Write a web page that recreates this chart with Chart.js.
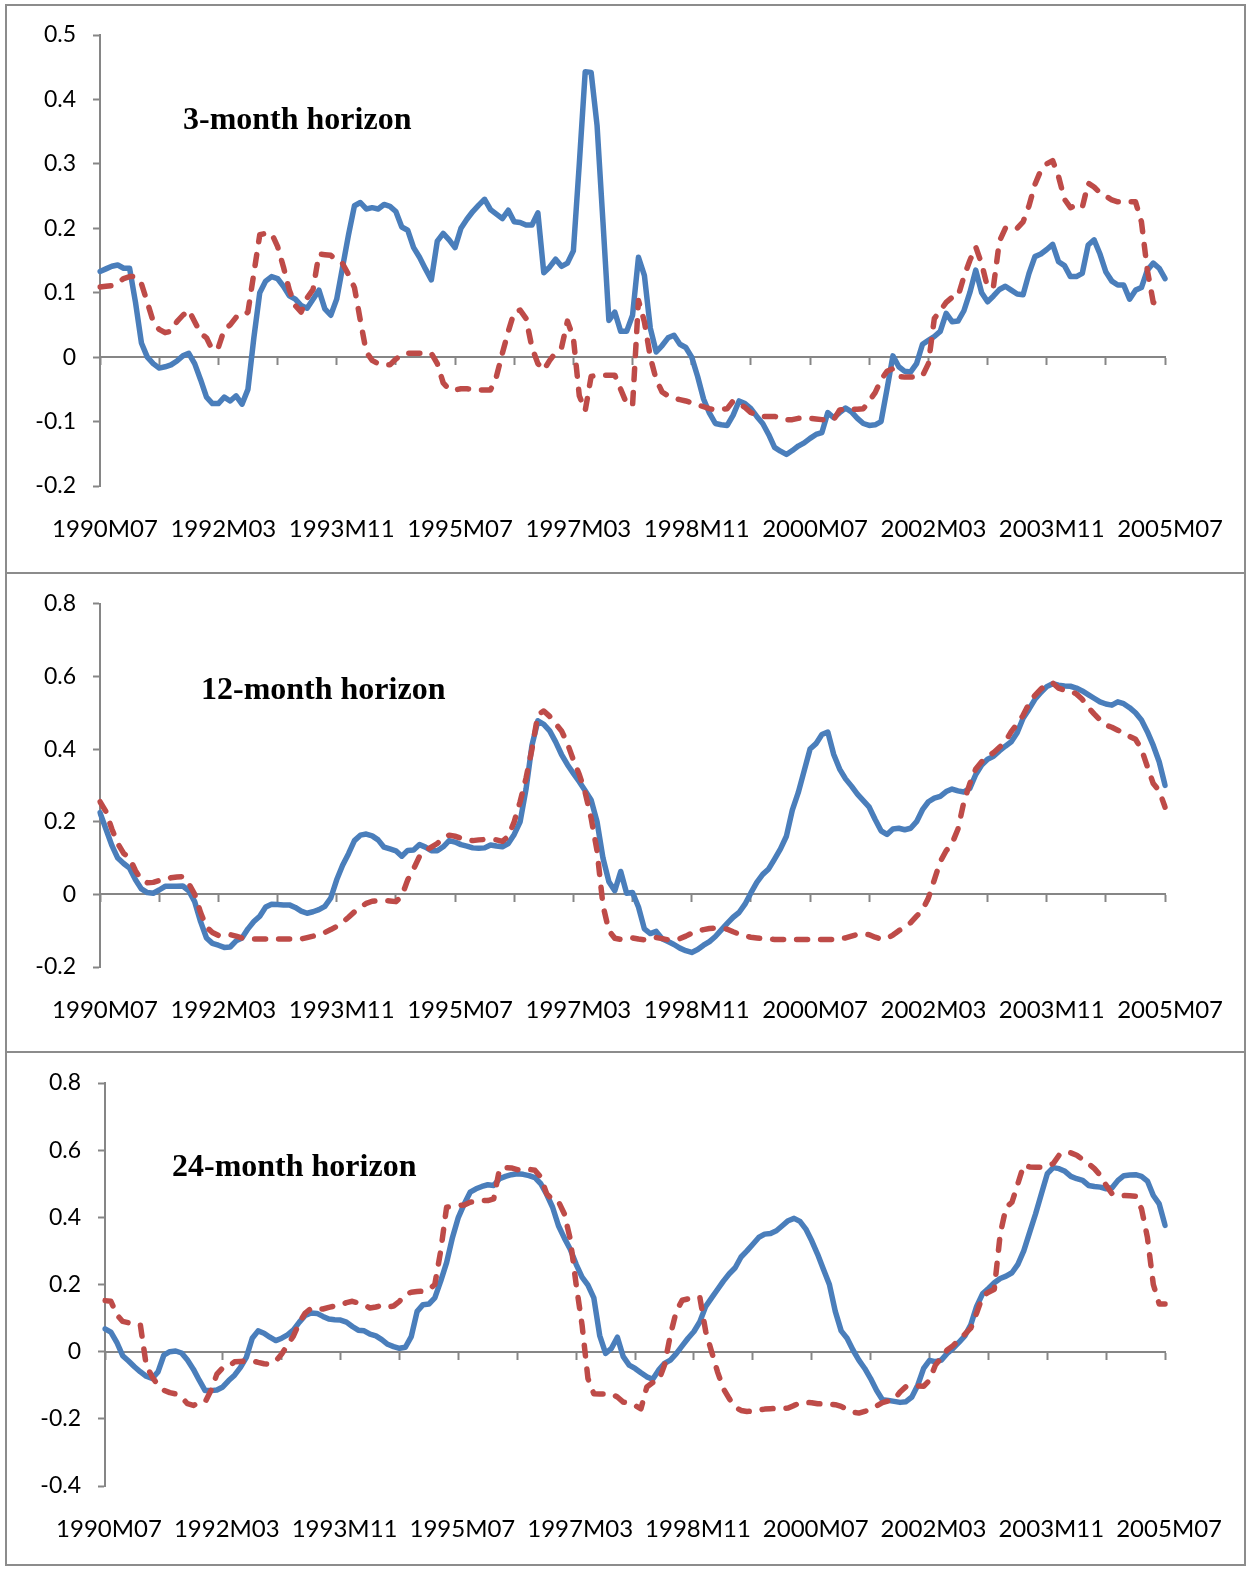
<!DOCTYPE html>
<html>
<head>
<meta charset="utf-8">
<script src="https://cdn.jsdelivr.net/npm/chart.js@4.4.0/dist/chart.umd.min.js"></script>
<style>
  html, body { margin: 0; padding: 0; background: #fff; }
  body { width: 1247px; height: 1569px; position: relative; overflow: hidden; }
  .frame { position: absolute; left: 5px; top: 4px; width: 1237px; height: 1558px; border: 2px solid #8c8c8c; }
  .sep { position: absolute; left: 5px; width: 1241px; height: 2px; background: #8c8c8c; }
  .panel { position: absolute; left: 0; width: 1247px; }
  .panel canvas { position: absolute; left: 0; top: 0; }
  .title { position: absolute; font-family: "Liberation Serif", "Times New Roman", serif; font-weight: bold;
           font-size: 32px; line-height: 32px; white-space: nowrap; color: #000; }
</style>
</head>
<body>
<div class="frame"></div>
<div class="sep" style="top:572px"></div>
<div class="sep" style="top:1051px"></div>

<div class="panel" style="top:0px;height:572px"><canvas id="c3" width="1247" height="572"></canvas></div>
<div class="panel" style="top:573px;height:479px"><canvas id="c12" width="1247" height="479"></canvas></div>
<div class="panel" style="top:1052px;height:514px"><canvas id="c24" width="1247" height="514"></canvas></div>

<div class="title" style="left:183px;top:102px">3-month horizon</div>
<div class="title" style="left:201px;top:672px">12-month horizon</div>
<div class="title" style="left:172px;top:1149px">24-month horizon</div>

<script>
// Monthly sample, 1990M07 .. 2005M07 (181 months)
const tickLabels = ['1990M07', '1992M03', '1993M11', '1995M07', '1997M03',
                    '1998M11', '2000M07', '2002M03', '2003M11', '2005M07'];

const months = [];
for (let i = 0; i <= 180; i++) {
  const t = 1990 * 12 + 6 + i;
  const y = Math.floor(t / 12), m = t % 12 + 1;
  months.push(y + 'M' + (m < 10 ? '0' : '') + m);
}

// 3-month horizon
const h3Solid = [
  0.133, 0.137, 0.141, 0.143, 0.138, 0.138, 0.085, 0.022, 0.0, -0.01,
  -0.017, -0.015, -0.012, -0.006, 0.002, 0.006, -0.01, -0.035, -0.062, -0.072,
  -0.072, -0.062, -0.068, -0.06, -0.073, -0.05, 0.03, 0.1, 0.118, 0.125,
  0.122, 0.11, 0.095, 0.09, 0.08, 0.076, 0.09, 0.104, 0.075, 0.065,
  0.09, 0.14, 0.19, 0.235, 0.24, 0.23, 0.232, 0.23, 0.237, 0.234,
  0.226, 0.202, 0.197, 0.17, 0.155, 0.137, 0.12, 0.18, 0.192, 0.182,
  0.17, 0.2, 0.214, 0.226, 0.236, 0.245, 0.229, 0.222, 0.215, 0.228,
  0.21, 0.209, 0.205, 0.205, 0.224, 0.131, 0.14, 0.152, 0.141, 0.146,
  0.165, 0.3, 0.443, 0.442, 0.36, 0.21, 0.057, 0.07, 0.04, 0.04,
  0.065, 0.155, 0.127, 0.045, 0.008, 0.018, 0.03, 0.034, 0.02, 0.015,
  0.0, -0.03, -0.065, -0.087, -0.103, -0.105, -0.106, -0.09, -0.068, -0.072,
  -0.08, -0.092, -0.103, -0.12, -0.14, -0.146, -0.151, -0.145, -0.138, -0.133,
  -0.126, -0.12, -0.117, -0.086, -0.094, -0.086, -0.079, -0.085, -0.095, -0.103,
  -0.106, -0.105, -0.1, -0.05, 0.002, -0.015, -0.022, -0.023, -0.01, 0.02,
  0.026, 0.032, 0.04, 0.068, 0.055, 0.056, 0.072, 0.1, 0.135, 0.1,
  0.086, 0.095, 0.105, 0.11, 0.104, 0.098, 0.097, 0.13, 0.156, 0.16,
  0.167, 0.175, 0.148, 0.142, 0.125, 0.125, 0.13, 0.174, 0.182, 0.16,
  0.132, 0.118, 0.112, 0.112, 0.09, 0.104, 0.108, 0.135, 0.146, 0.138, 0.122
];
const h3Dashed = [
  0.109, 0.11, 0.111, 0.115, 0.122, 0.125, 0.125, 0.114, 0.085, 0.055,
  0.043, 0.038, 0.04, 0.055, 0.065, 0.073, 0.055, 0.037, 0.03, 0.011,
  0.015, 0.043, 0.05, 0.062, 0.062, 0.07, 0.13, 0.19, 0.192, 0.192,
  0.172, 0.14, 0.104, 0.08, 0.07, 0.092, 0.105, 0.16, 0.159, 0.158,
  0.15, 0.145, 0.128, 0.108, 0.057, 0.008, -0.005, -0.01, -0.012, -0.012,
  -0.003, 0.004, 0.006, 0.006, 0.006, 0.006, 0.006, -0.01, -0.04, -0.05,
  -0.051, -0.049, -0.049, -0.05, -0.051, -0.051, -0.051, -0.03, 0.006, 0.04,
  0.07, 0.073, 0.06, 0.015, -0.01, -0.02, -0.005, 0.007, 0.015, 0.056,
  0.03, -0.06, -0.083, -0.03, -0.028, -0.028, -0.028, -0.028, -0.05, -0.072,
  -0.075, 0.088, 0.055, 0.0, -0.035, -0.054, -0.06, -0.064, -0.066, -0.068,
  -0.071, -0.074, -0.077, -0.08, -0.082, -0.081, -0.08, -0.068, -0.072, -0.078,
  -0.086, -0.09, -0.092, -0.092, -0.092, -0.094, -0.097, -0.097, -0.095, -0.095,
  -0.095, -0.096, -0.097, -0.097, -0.097, -0.082, -0.081, -0.081, -0.081, -0.08,
  -0.068, -0.055, -0.035, -0.022, -0.018, -0.03, -0.031, -0.031, -0.03, -0.029,
  -0.01, 0.06, 0.072, 0.085, 0.093, 0.094, 0.125, 0.15, 0.171, 0.145,
  0.108, 0.11, 0.18, 0.2, 0.203, 0.2, 0.21, 0.235, 0.268, 0.29,
  0.3, 0.305, 0.28, 0.245, 0.232, 0.236, 0.232, 0.27, 0.264, 0.255,
  0.25, 0.244, 0.241, 0.241, 0.241, 0.241, 0.21, 0.135, 0.085, 0.081, 0.081
];

// 12-month horizon
const h12Solid = [
  0.225, 0.18, 0.135, 0.1, 0.085, 0.072, 0.04, 0.015, 0.005, 0.003,
  0.012, 0.022, 0.022, 0.022, 0.023, 0.01, -0.02, -0.075, -0.12, -0.135,
  -0.14, -0.146, -0.145, -0.128, -0.12, -0.095, -0.075, -0.06, -0.035, -0.027,
  -0.028, -0.029, -0.029, -0.036, -0.046, -0.052, -0.048, -0.042, -0.033, -0.01,
  0.04, 0.08, 0.112, 0.148, 0.163, 0.166, 0.161, 0.15, 0.13, 0.125,
  0.12, 0.105, 0.121, 0.122, 0.137, 0.13, 0.12, 0.12, 0.131, 0.148,
  0.144, 0.137, 0.133, 0.128, 0.127, 0.128, 0.136, 0.133, 0.131, 0.14,
  0.165, 0.2, 0.29, 0.41, 0.478, 0.468, 0.45, 0.42, 0.385, 0.357,
  0.333, 0.31, 0.285, 0.26, 0.2, 0.1, 0.035, 0.01, 0.063, 0.003,
  0.005, -0.035, -0.095, -0.108, -0.102, -0.122, -0.13, -0.138, -0.148, -0.155,
  -0.16, -0.152, -0.14, -0.13, -0.116, -0.098, -0.08, -0.063, -0.05, -0.027,
  0.004, 0.033, 0.055, 0.07, 0.097, 0.125, 0.16, 0.232, 0.28, 0.34,
  0.4, 0.415, 0.44, 0.447, 0.385, 0.345, 0.318, 0.298, 0.276, 0.258,
  0.24, 0.206, 0.175, 0.165, 0.18, 0.182, 0.178, 0.182, 0.2, 0.233,
  0.255, 0.265, 0.27, 0.283, 0.29, 0.285, 0.282, 0.292, 0.33, 0.356,
  0.372, 0.38, 0.395, 0.408, 0.42, 0.445, 0.485, 0.51, 0.537, 0.556,
  0.572, 0.58, 0.576, 0.574, 0.573, 0.568, 0.56, 0.55, 0.54, 0.53,
  0.524, 0.521, 0.53, 0.525, 0.514, 0.5, 0.48, 0.448, 0.41, 0.365, 0.3
];
const h12Dashed = [
  0.255, 0.228, 0.18, 0.14, 0.113, 0.1, 0.065, 0.04, 0.032, 0.033,
  0.038, 0.04, 0.046, 0.048, 0.049, 0.03, 0.0, -0.05, -0.09, -0.105,
  -0.113, -0.112, -0.111, -0.115, -0.12, -0.122, -0.123, -0.123, -0.123, -0.123,
  -0.123, -0.123, -0.123, -0.123, -0.123, -0.119, -0.115, -0.11, -0.105, -0.097,
  -0.088, -0.077, -0.063, -0.048, -0.035, -0.025, -0.019, -0.017, -0.017, -0.018,
  -0.02, -0.005, 0.04, 0.07, 0.105, 0.12, 0.13, 0.14, 0.155, 0.163,
  0.16, 0.155, 0.15, 0.148, 0.15, 0.151, 0.151, 0.15, 0.146, 0.16,
  0.2, 0.255, 0.32, 0.4, 0.495, 0.505, 0.49, 0.47, 0.45, 0.415,
  0.37, 0.33, 0.28, 0.21, 0.12, -0.03, -0.1, -0.121, -0.124, -0.123,
  -0.12, -0.123, -0.125, -0.12, -0.119, -0.122, -0.125, -0.125, -0.122, -0.115,
  -0.107, -0.101, -0.097, -0.094, -0.093, -0.093, -0.096, -0.103, -0.109, -0.115,
  -0.118, -0.12, -0.122, -0.123, -0.124, -0.124, -0.124, -0.124, -0.124, -0.124,
  -0.124, -0.124, -0.124, -0.124, -0.124, -0.122, -0.12, -0.115, -0.11, -0.109,
  -0.111, -0.118, -0.123, -0.121, -0.112, -0.1, -0.09, -0.078, -0.06, -0.043,
  -0.01, 0.04, 0.09, 0.12, 0.14, 0.18, 0.255, 0.305, 0.345, 0.365,
  0.38, 0.39, 0.405, 0.42, 0.448, 0.47, 0.493, 0.525, 0.548, 0.565,
  0.578, 0.582, 0.568, 0.562, 0.56, 0.552, 0.537, 0.515, 0.497, 0.48,
  0.466, 0.46, 0.452, 0.444, 0.435, 0.427, 0.4, 0.352, 0.305, 0.285, 0.24
];

// 24-month horizon
const h24Solid = [
  0.068, 0.058, 0.028, -0.012, -0.028, -0.045, -0.06, -0.073, -0.08, -0.06,
  -0.01, 0.0, 0.002, -0.004, -0.025, -0.052, -0.085, -0.116, -0.116, -0.114,
  -0.105, -0.086, -0.07, -0.047, -0.017, 0.04, 0.062, 0.055, 0.043, 0.033,
  0.04, 0.05, 0.065, 0.088, 0.108, 0.115, 0.114, 0.105, 0.097, 0.095,
  0.094, 0.088, 0.075, 0.064, 0.062, 0.052, 0.047, 0.036, 0.022, 0.015,
  0.01, 0.013, 0.045, 0.12, 0.14, 0.142, 0.16, 0.21, 0.265, 0.34,
  0.4, 0.44, 0.475, 0.485, 0.492, 0.497, 0.495, 0.515, 0.522, 0.527,
  0.53, 0.528, 0.524, 0.518, 0.5, 0.468, 0.43, 0.375, 0.338, 0.305,
  0.26, 0.222, 0.198, 0.16, 0.048, -0.005, 0.01, 0.043, -0.015, -0.04,
  -0.05, -0.063, -0.075, -0.082, -0.055, -0.035, -0.025, -0.006, 0.017, 0.04,
  0.06, 0.089, 0.135, 0.16, 0.185, 0.21, 0.232, 0.25, 0.282, 0.3,
  0.32, 0.34, 0.35, 0.352, 0.36, 0.375, 0.39, 0.397, 0.388, 0.365,
  0.33, 0.29, 0.245, 0.2, 0.12, 0.062, 0.04, 0.005, -0.025, -0.05,
  -0.08, -0.115, -0.143, -0.145, -0.148, -0.151, -0.149, -0.135, -0.1, -0.05,
  -0.026, -0.03, -0.025, -0.005, 0.01, 0.028, 0.047, 0.08, 0.135, 0.172,
  0.188, 0.205, 0.218, 0.225, 0.235, 0.26, 0.3, 0.355, 0.41, 0.47,
  0.53, 0.548, 0.545, 0.537, 0.522, 0.515, 0.51, 0.495, 0.492, 0.49,
  0.485, 0.488, 0.51, 0.524, 0.526, 0.527, 0.522, 0.508, 0.465, 0.44, 0.376
];
const h24Dashed = [
  0.152, 0.15, 0.11, 0.09, 0.086, 0.084, 0.08, -0.04, -0.075, -0.1,
  -0.115, -0.122, -0.126, -0.135, -0.155, -0.16, -0.152, -0.15, -0.115, -0.067,
  -0.048, -0.045, -0.03, -0.029, -0.028, -0.027, -0.032, -0.036, -0.037, -0.028,
  -0.007, 0.02, 0.047, 0.087, 0.115, 0.129, 0.128, 0.127, 0.132, 0.136,
  0.139, 0.146, 0.15, 0.145, 0.14, 0.13, 0.133, 0.138, 0.133, 0.136,
  0.15, 0.17, 0.177, 0.179, 0.18, 0.185, 0.2, 0.3, 0.43, 0.433,
  0.435, 0.437, 0.445, 0.448, 0.45, 0.45, 0.455, 0.545, 0.548, 0.547,
  0.542, 0.54, 0.543, 0.54, 0.52, 0.47, 0.452, 0.447, 0.41, 0.335,
  0.2, 0.08, -0.08, -0.125, -0.126, -0.126, -0.126, -0.135, -0.15, -0.153,
  -0.16, -0.17, -0.105, -0.092, -0.087, -0.04, 0.05, 0.12, 0.153, 0.157,
  0.162, 0.162, 0.06, 0.0, -0.06, -0.11, -0.14, -0.165, -0.175, -0.178,
  -0.177, -0.174, -0.171, -0.17, -0.169, -0.169, -0.168, -0.16, -0.153, -0.151,
  -0.152, -0.155, -0.156, -0.156, -0.158, -0.163, -0.172, -0.18, -0.183, -0.178,
  -0.171, -0.162, -0.152, -0.147, -0.143, -0.12, -0.104, -0.101, -0.102, -0.103,
  -0.085, -0.04, -0.018, 0.005, 0.018, 0.035, 0.052, 0.07, 0.115, 0.165,
  0.177, 0.186, 0.35, 0.43, 0.445, 0.5, 0.556, 0.55, 0.549, 0.549,
  0.552, 0.56, 0.585, 0.595, 0.592, 0.585, 0.572, 0.56, 0.545, 0.525,
  0.495, 0.47, 0.465, 0.465, 0.464, 0.463, 0.425, 0.34, 0.2, 0.142, 0.142
];

const AXIS_GRAY = '#868686';
const SOLID_BLUE = '#4A7EBB';
const DASH_RED = '#BE4B48';
const X_FONT = { family: 'Lato, "DejaVu Sans", sans-serif', size: 24 };
const Y_FONT = { family: 'Lato, "DejaVu Sans", sans-serif', size: 23 };

function fmt(v) {
  const r = Math.round(v * 10) / 10;
  return (r === 0 ? 0 : r).toString();
}

function drawPanel(id, solid, dashed, yMin, yMax, yStep, g) {
  const canvas = document.getElementById(id);
  new Chart(canvas, {
    type: 'line',
    data: {
      labels: months,
      datasets: [
        { data: solid, borderColor: SOLID_BLUE, borderWidth: 5.5, pointRadius: 0, tension: 0,
          fill: false, borderJoinStyle: 'round', borderCapStyle: 'round', order: 1 },
        { data: dashed, borderColor: DASH_RED, borderWidth: 5.5, pointRadius: 0, tension: 0,
          fill: false, borderDash: [11, 13], borderJoinStyle: 'round', borderCapStyle: 'round', order: 0 }
      ]
    },
    options: {
      responsive: false,
      animation: false,
      events: [],
      layout: { padding: { top: g.plotTop, right: canvas.width - g.plotRight, bottom: 0, left: 0 } },
      plugins: { legend: { display: false }, tooltip: { enabled: false }, title: { display: false } },
      scales: {
        x: {
          type: 'category',
          position: 'bottom',
          offset: false,
          grid: { display: false, drawTicks: false },
          border: { display: false },
          ticks: {
            autoSkip: false, maxRotation: 0, minRotation: 0,
            padding: g.labelGap, labelOffset: g.labelShift, color: '#000', font: X_FONT,
            callback: (v, i) => (i % 20 === 0 ? tickLabels[i / 20] : '')
          },
          afterFit: s => { s.height = canvas.height - g.plotBottom; }
        },
        xZero: {
          type: 'category',
          axis: 'x',
          labels: months,
          position: { y: 0 },
          offset: false,
          grid: {
            display: true, drawOnChartArea: false, drawTicks: true, tickLength: 7, tickWidth: 2,
            tickColor: c => (c.index % 10 === 0 ? AXIS_GRAY : 'rgba(0,0,0,0)')
          },
          border: { display: true, color: AXIS_GRAY, width: 2 },
          ticks: { autoSkip: false, maxRotation: 0, minRotation: 0, callback: () => '' }
        },
        y: {
          min: yMin, max: yMax,
          grid: { display: true, drawOnChartArea: false, drawTicks: true, tickLength: 7, tickWidth: 2, tickColor: AXIS_GRAY },
          border: { display: true, color: AXIS_GRAY, width: 2 },
          ticks: { stepSize: yStep, padding: 17, color: '#000', font: Y_FONT, callback: v => fmt(v) },
          afterFit: s => { s.width = g.plotLeft; }
        }
      }
    }
  });
}

drawPanel('c3', h3Solid, h3Dashed, -0.2, 0.5, 0.1,
  { plotTop: 35, plotBottom: 486, plotLeft: 100, plotRight: 1166, labelGap: 29, labelShift: 5 });
drawPanel('c12', h12Solid, h12Dashed, -0.2, 0.8, 0.2,
  { plotTop: 30, plotBottom: 394, plotLeft: 100, plotRight: 1166, labelGap: 29, labelShift: 5 });
drawPanel('c24', h24Solid, h24Dashed, -0.4, 0.8, 0.2,
  { plotTop: 31, plotBottom: 434, plotLeft: 105, plotRight: 1168, labelGap: 29, labelShift: 4 });
</script>
</body>
</html>
